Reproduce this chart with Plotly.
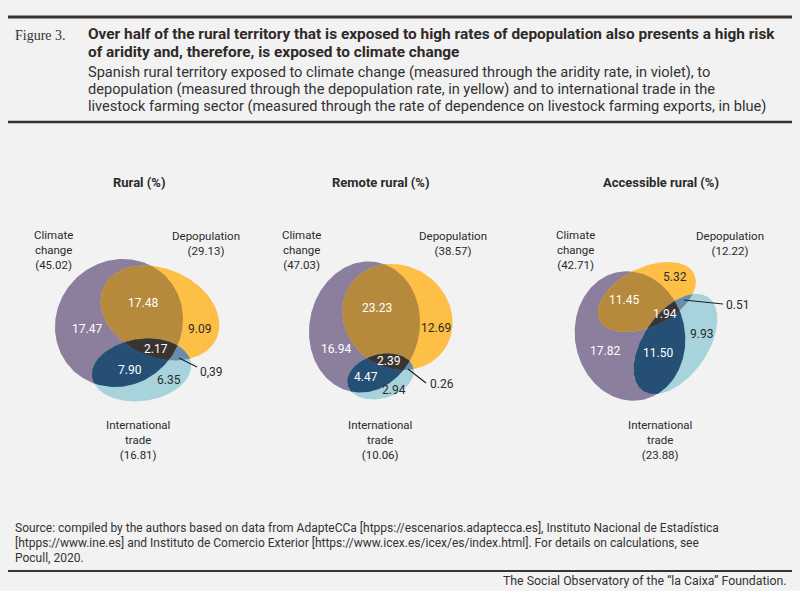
import numpy as np
import plotly.graph_objects as go

# --- data -------------------------------------------------------------
panels = ["Rural (%)", "Remote rural (%)", "Accessible rural (%)"]
climate_totals = [45.02, 47.03, 42.71]
depop_totals = [29.13, 38.57, 12.22]
trade_totals = [16.81, 10.06, 23.88]

climate_only = [17.47, 16.94, 17.82]
climate_depop = [17.48, 23.23, 11.45]
depop_only = [9.09, 12.69, 5.32]
all_three = [2.17, 2.39, 1.94]
climate_trade = [7.90, 4.47, 11.50]
trade_only = [6.35, 2.94, 9.93]
depop_trade = [0.39, 0.26, 0.51]
depop_trade_sep = [",", ".", "."]   # the source prints "0,39" in the first panel

# --- layout geometry (pixel space, y down) -----------------------------
# ellipse = (cx, cy, semi axis a, semi axis b, rotation deg)
ellipses = [
    {"A": (119, 323, 66, 62, -45), "B": (160, 313, 62, 44, 24), "C": (141.5, 370, 50, 31, -8)},
    {"A": (364.5, 327, 66, 55, -78), "B": (397.5, 317, 57, 51, 35), "C": (380.5, 376.5, 34, 22, -15)},
    {"A": (630, 336, 65, 55, 80), "B": (647, 297, 52.5, 29.5, -26), "C": (675.5, 344, 57, 32, -55)},
]
title_x = [139, 381, 661]
climate_lbl_x = [53, 301, 575]
depop_lbl_x = [206, 453, 730]
trade_lbl_x = [138, 380, 660]
# positions of region numbers: A, AB, B, ABC, AC, C, BC
region_pos = [
    [(87, 329), (143, 303), (199, 329), (156, 349), (130, 370), (169, 380), (211, 372)],
    [(336, 349), (377, 308), (436, 328), (388, 361), (366, 377), (394, 390), (442, 384)],
    [(605, 351), (624, 300), (675, 277), (665, 314), (658, 353), (701, 334), (737, 305)],
]
leaders = [((179, 358), (197, 367)), ((408, 369), (426, 383)), ((684, 300), (723, 304))]

VIOLET = "#8b7f9d"
YELLOW = "#fdbf46"
LBLUE = "#a7d3dc"
BROWN = "#b58a3c"
DBLUE = "#254f74"
SLATE = "#6b8cab"
BLACK = "#3a3431"
BG = "#f2f2f2"
INK = "#2b2b2b"

SANS = "Roboto, Liberation Sans, sans-serif"


def ellipse_poly(e, n=240):
    cx, cy, a, b, rot = e
    t = np.linspace(0, 2 * np.pi, n, endpoint=False)
    r = np.radians(rot)
    x = cx + a * np.cos(t) * np.cos(r) - b * np.sin(t) * np.sin(r)
    y = cy + a * np.cos(t) * np.sin(r) + b * np.sin(t) * np.cos(r)
    return list(zip(x, y))


def clip(subject, clipper):
    # Sutherland-Hodgman, both convex
    def orient(poly):
        s = 0
        for i in range(len(poly)):
            x1, y1 = poly[i]
            x2, y2 = poly[(i + 1) % len(poly)]
            s += x1 * y2 - x2 * y1
        return s

    sign = 1 if orient(clipper) > 0 else -1

    def inside(p, a, b):
        return sign * ((b[0] - a[0]) * (p[1] - a[1]) - (b[1] - a[1]) * (p[0] - a[0])) >= 0

    def inter(p, q, a, b):
        x1, y1 = p
        x2, y2 = q
        x3, y3 = a
        x4, y4 = b
        d = (x1 - x2) * (y3 - y4) - (y1 - y2) * (x3 - x4)
        if d == 0:
            return q
        t = ((x1 - x3) * (y3 - y4) - (y1 - y3) * (x3 - x4)) / d
        return (x1 + t * (x2 - x1), y1 + t * (y2 - y1))

    out = subject
    for i in range(len(clipper)):
        a = clipper[i]
        b = clipper[(i + 1) % len(clipper)]
        inp = out
        out = []
        if not inp:
            break
        s = inp[-1]
        for p in inp:
            if inside(p, a, b):
                if not inside(s, a, b):
                    out.append(inter(s, p, a, b))
                out.append(p)
            elif inside(s, a, b):
                out.append(inter(s, p, a, b))
            s = p
    return out


fig = go.Figure()


def add_poly(poly, color):
    if not poly:
        return
    xs = [p[0] for p in poly] + [poly[0][0]]
    ys = [p[1] for p in poly] + [poly[0][1]]
    fig.add_trace(go.Scatter(x=xs, y=ys, mode="lines", fill="toself", fillcolor=color,
                             line=dict(width=0, color=color), hoverinfo="skip", showlegend=False))


annotations = []


def txt(x, y, s, size=11.5, color=INK, family=SANS, xanchor="center", bold=False):
    if bold:
        s = "<b>" + s + "</b>"
    annotations.append(dict(x=x, y=y, xref="x", yref="y", text=s, showarrow=False,
                            xanchor=xanchor, yanchor="middle",
                            font=dict(size=size, color=color, family=family)))


shapes = []

for i in range(3):
    A = ellipse_poly(ellipses[i]["A"])
    B = ellipse_poly(ellipses[i]["B"])
    C = ellipse_poly(ellipses[i]["C"])
    add_poly(A, VIOLET)
    add_poly(B, YELLOW)
    add_poly(C, LBLUE)
    AB = clip(A, B)
    add_poly(AB, BROWN)
    add_poly(clip(A, C), DBLUE)
    add_poly(clip(B, C), SLATE)
    add_poly(clip(AB, C), BLACK)

    txt(title_x[i], 182, panels[i], size=13, bold=True)
    txt(climate_lbl_x[i], 250, "Climate<br>change<br>(%.2f)" % climate_totals[i])
    txt(depop_lbl_x[i], 243, "Depopulation<br>(%.2f)" % depop_totals[i])
    txt(trade_lbl_x[i], 440, "International<br>trade<br>(%.2f)" % trade_totals[i])

    vals = [climate_only[i], climate_depop[i], depop_only[i], all_three[i],
            climate_trade[i], trade_only[i], depop_trade[i]]
    cols = ["white", "white", INK, "white", "white", INK, INK]
    for k, (v, c) in enumerate(zip(vals, cols)):
        s = "%.2f" % v
        if k == 6:
            s = s.replace(".", depop_trade_sep[i])
        x, y = region_pos[i][k]
        txt(x, y, s, size=12, color=c)
    (x0, y0), (x1, y1) = leaders[i]
    shapes.append(dict(type="line", x0=x0, y0=y0, x1=x1, y1=y1, xref="x", yref="y",
                       line=dict(color="#222222", width=1.2)))

# header / footer rules
for y, w in [(17, 3), (122, 2.5), (571, 2)]:
    shapes.append(dict(type="line", x0=8, x1=792, y0=y, y1=y, xref="x", yref="y",
                       line=dict(color="#3a3330", width=w)))

txt(13, 35, "Figure 3.", size=14, color="#333333", family="Liberation Serif, serif", xanchor="left")
txt(86, 34, "Over half of the rural territory that is exposed to high rates of depopulation also presents a high risk",
    size=15.4, color="#2f2a28", xanchor="left", bold=True)
txt(86, 52, "of aridity and, therefore, is exposed to climate change",
    size=15.4, color="#2f2a28", xanchor="left", bold=True)
sub = ["Spanish rural territory exposed to climate change (measured through the aridity rate, in violet), to",
       "depopulation (measured through the depopulation rate, in yellow) and to international trade in the",
       "livestock farming sector (measured through the rate of dependence on livestock farming exports, in blue)"]
for k, s in enumerate(sub):
    txt(86, 72 + 17 * k, s, size=14.6, color="#333333", xanchor="left")

src = ["Source: compiled by the authors based on data from AdapteCCa [htpps://escenarios.adaptecca.es], Instituto Nacional de Estadística",
       "[htpps://www.ine.es] and Instituto de Comercio Exterior [https://www.icex.es/icex/es/index.html]. For details on calculations, see",
       "Pocull, 2020."]
for k, s in enumerate(src):
    txt(13, 528 + 15 * k, s, size=12, color="#333333", xanchor="left")
txt(789, 581, "The Social Observatory of the “la Caixa” Foundation.", size=12.3, color="#333333",
    xanchor="right")

fig.update_layout(
    width=800, height=591,
    margin=dict(l=0, r=0, t=0, b=0),
    paper_bgcolor=BG, plot_bgcolor=BG,
    xaxis=dict(range=[0, 800], visible=False, fixedrange=True),
    yaxis=dict(range=[591, 0], visible=False, fixedrange=True),
    annotations=annotations,
    shapes=shapes,
    showlegend=False,
)

fig.write_html("out.html", config={"displayModeBar": False},
               post_script="document.body.style.margin='0';")
